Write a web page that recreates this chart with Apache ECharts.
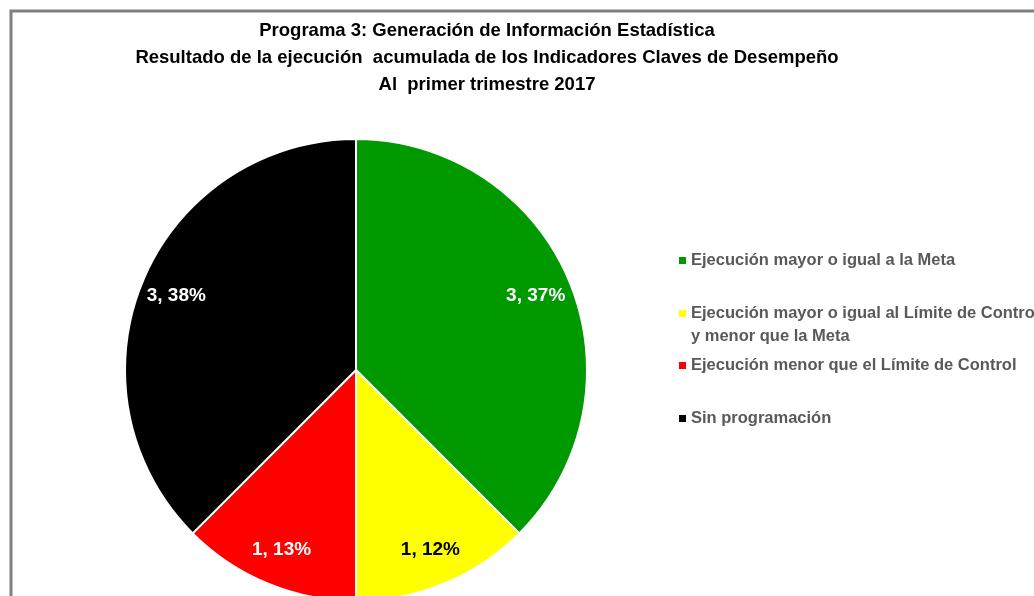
<!DOCTYPE html>
<html>
<head>
<meta charset="utf-8">
<script src="https://cdn.jsdelivr.net/npm/echarts@6/dist/echarts.min.js"></script>
<style>
  html, body { margin: 0; padding: 0; background: #fff; }
  #chart { width: 1034px; height: 596px; }
</style>
</head>
<body>
<div id="chart"></div>
<script>
// datos
const titleLines = [
  'Programa 3: Generación de Información Estadística',
  'Resultado de la ejecución  acumulada de los Indicadores Claves de Desempeño',
  'Al  primer trimestre 2017'
];
const categories = [
  'Ejecución mayor o igual a la Meta',
  'Ejecución mayor o igual al Límite de Control\ny menor que la Meta',
  'Ejecución menor que el Límite de Control',
  'Sin programación'
];
const values = [3, 1, 1, 3];
const percentLabels = ['37%', '12%', '13%', '38%'];

// estilos
const colors = ['#009900', '#ffff00', '#ff0000', '#000000'];
const labelColors = ['#ffffff', '#000000', '#ffffff', '#ffffff'];
const legendTops = [249, 279, 354, 407];

const FONT = 'Liberation Sans';
const center = [356, 370];
const R = 231;

let myChart = echarts.init(document.getElementById('chart'), null, { renderer: 'canvas' });

let pieData = categories.map((name, i) => ({
  name: name,
  value: values[i],
  itemStyle: { color: colors[i] }
}));

let labelData = categories.map((name, i) => ({
  name: name,
  value: values[i],
  label: { color: labelColors[i] }
}));

// texto de dos lineas: una linea vacia arriba para que el cuadro quede en la primera linea
let legendText = (name) => {
  let lines = name.split('\n');
  if (lines.length === 1) return '{a|' + name + '}';
  return '{e| }\n' + lines.map(l => '{a|' + l + '}').join('\n');
};

let legends = categories.map((name, i) => ({
  data: [{ name: name, itemStyle: { color: colors[i], borderWidth: 0 } }],
  orient: 'vertical',
  left: 679,
  top: legendTops[i],
  padding: 0,
  icon: 'rect',
  itemWidth: 7,
  itemHeight: 7,
  itemStyle: { borderWidth: 0 },
  selectedMode: false,
  formatter: legendText,
  textStyle: {
    fontFamily: FONT,
    fontSize: 16.5,
    fontWeight: 'bold',
    color: '#595959',
    lineHeight: 23,
    rich: {
      a: { fontFamily: FONT, fontSize: 16.5, fontWeight: 'bold', color: '#595959', lineHeight: 23 },
      e: { fontSize: 10, lineHeight: 23 }
    }
  }
}));

myChart.setOption({
  backgroundColor: '#ffffff',
  animation: false,
  title: {
    text: titleLines.join('\n'),
    left: 487,
    top: 17,
    padding: 0,
    textAlign: 'center',
    textStyle: {
      fontFamily: FONT,
      fontSize: 18.5,
      fontWeight: 'bold',
      color: '#000000',
      lineHeight: 27
    }
  },
  legend: legends,
  graphic: [{
    type: 'rect',
    shape: { x: 11, y: 11, width: 1200, height: 800 },
    style: { fill: 'none', stroke: '#808080', lineWidth: 3 },
    silent: true,
    z: 100
  }],
  series: [
    {
      type: 'pie',
      center: center,
      radius: R,
      startAngle: 90,
      clockwise: true,
      label: { show: false },
      labelLine: { show: false },
      itemStyle: { borderColor: '#ffffff', borderWidth: 2 },
      emphasis: { disabled: true },
      data: pieData
    },
    {
      // capa transparente solo para las etiquetas
      type: 'pie',
      center: center,
      radius: [152, R],
      startAngle: 90,
      clockwise: true,
      silent: true,
      z: 3,
      itemStyle: { color: 'rgba(0,0,0,0)', borderWidth: 0 },
      emphasis: { disabled: true },
      label: {
        show: true,
        position: 'inside',
        fontFamily: FONT,
        fontSize: 19,
        fontWeight: 'bold',
        formatter: (p) => p.value + ', ' + percentLabels[p.dataIndex]
      },
      labelLine: { show: false },
      data: labelData
    }
  ]
});
</script>
</body>
</html>
